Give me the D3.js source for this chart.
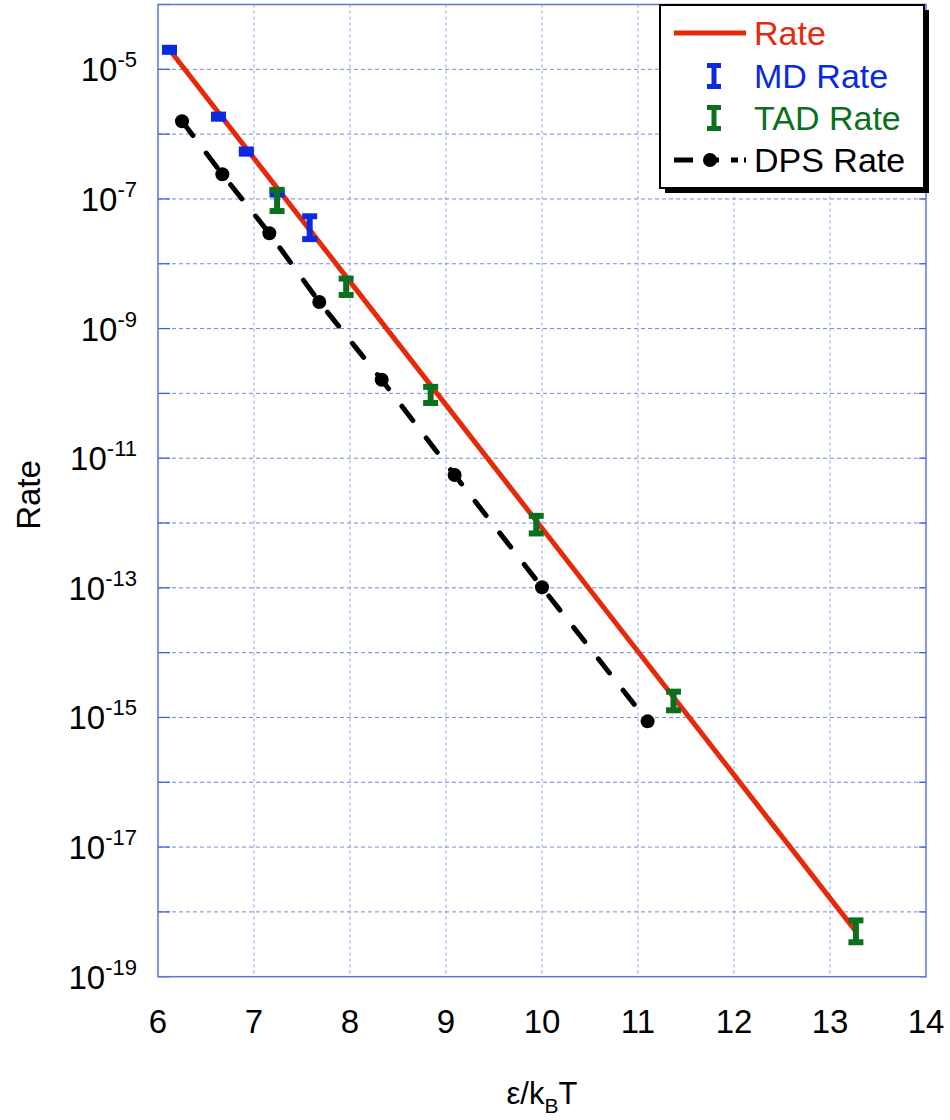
<!DOCTYPE html>
<html>
<head>
<meta charset="utf-8">
<script src="https://cdn.jsdelivr.net/npm/d3@7"></script>
<style>
  body { margin: 0; background: #fff; }
  text { font-family: "Liberation Sans", Arial, Helvetica, sans-serif; }
</style>
</head>
<body>
<script>
// chart size
var width = 950;
var height = 1120;

// x ticks and y decades
var xTicks = [6, 7, 8, 9, 10, 11, 12, 13, 14];
var yExps = [-19, -18, -17, -16, -15, -14, -13, -12, -11, -10, -9, -8, -7, -6, -5, -4];
var yLabelExps = [-19, -17, -15, -13, -11, -9, -7, -5];

// Rate (fit line)
var rateX = [6.12, 8, 10, 12, 13.27];
var rateY = [2.0e-5, 5.3e-9, 8.3e-13, 1.3e-16, 5.0e-19];

// MD Rate with error bars
var mdX = [6.12, 6.63, 6.92, 7.24, 7.58];
var mdY = [2.0e-5, 1.86e-6, 5.4e-7, 1.26e-7, 3.5e-8];
var mdHi = [2.15e-5, 2.0e-6, 5.8e-7, 1.35e-7, 5.4e-8];
var mdLo = [1.86e-5, 1.73e-6, 5.0e-7, 1.17e-7, 2.4e-8];

// TAD Rate with error bars
var tadX = [7.24, 7.96, 8.84, 9.94, 11.37, 13.27];
var tadY = [9.5e-8, 4.4e-9, 9.3e-11, 9.3e-13, 1.86e-15, 5.0e-19];
var tadHi = [1.38e-7, 5.9e-9, 1.26e-10, 1.29e-12, 2.5e-15, 7.4e-19];
var tadLo = [6.5e-8, 3.3e-9, 7.1e-11, 6.9e-13, 1.29e-15, 3.4e-19];

// DPS Rate
var dpsX = [6.25, 6.67, 7.16, 7.68, 8.33, 9.09, 10.0, 11.10];
var dpsY = [1.58e-6, 2.4e-7, 2.95e-8, 2.57e-9, 1.62e-10, 5.5e-12, 1.02e-13, 8.7e-16];

var red = "#e8280a", blue = "#0a2ae0", green = "#0a7020";

var xScale = d3.scaleLinear().domain([6, 14]).range([158, 926]);
var yScale = d3.scaleLog().domain([1e-19, 1e-4]).range([976.7, 4.5]);

var svg = d3.select("body").append("svg")
    .attr("width", width)
    .attr("height", height);

// grid
var grid = svg.append("g");
grid.selectAll("line.v")
    .data(xTicks.slice(1, -1))
    .enter().append("line")
    .attr("x1", function(d){ return xScale(d); })
    .attr("x2", function(d){ return xScale(d); })
    .attr("y1", yScale.range()[1])
    .attr("y2", yScale.range()[0])
    .attr("stroke", "#b4c0f4")
    .attr("stroke-width", 1.5)
    .attr("stroke-dasharray", "3,3");

grid.selectAll("line.h")
    .data(yExps.slice(1, -1))
    .enter().append("line")
    .attr("x1", xScale.range()[0])
    .attr("x2", xScale.range()[1])
    .attr("y1", function(d){ return yScale(Math.pow(10, d)); })
    .attr("y2", function(d){ return yScale(Math.pow(10, d)); })
    .attr("stroke", "#7087e6")
    .attr("stroke-width", 1)
    .attr("stroke-dasharray", "4,3");

// frame
svg.append("rect")
    .attr("x", xScale.range()[0])
    .attr("y", yScale.range()[1])
    .attr("width", xScale.range()[1] - xScale.range()[0])
    .attr("height", yScale.range()[0] - yScale.range()[1])
    .attr("fill", "none")
    .attr("stroke", "#5b74e4")
    .attr("stroke-width", 1.5);

// inward ticks
grid.selectAll("line.tl")
    .data(yExps)
    .enter().append("line")
    .attr("x1", xScale.range()[0])
    .attr("x2", xScale.range()[0] + 12)
    .attr("y1", function(d){ return yScale(Math.pow(10, d)); })
    .attr("y2", function(d){ return yScale(Math.pow(10, d)); })
    .attr("stroke", "#3a58dc")
    .attr("stroke-width", 1.2);
grid.selectAll("line.tr")
    .data(yExps)
    .enter().append("line")
    .attr("x1", xScale.range()[1] - 7)
    .attr("x2", xScale.range()[1])
    .attr("y1", function(d){ return yScale(Math.pow(10, d)); })
    .attr("y2", function(d){ return yScale(Math.pow(10, d)); })
    .attr("stroke", "#3a58dc")
    .attr("stroke-width", 1.2);

// tick labels
svg.selectAll("text.xt")
    .data(xTicks)
    .enter().append("text")
    .attr("x", function(d){ return xScale(d); })
    .attr("y", 1033)
    .attr("text-anchor", "middle")
    .attr("font-size", 33)
    .text(function(d){ return d; });

var yl = svg.selectAll("text.yt")
    .data(yLabelExps)
    .enter().append("text")
    .attr("x", 137)
    .attr("y", function(d){ return yScale(Math.pow(10, d)) + 12; })
    .attr("text-anchor", "end")
    .attr("font-size", 33);
yl.append("tspan").text("10");
yl.append("tspan")
    .attr("dy", -14)
    .attr("font-size", 22)
    .text(function(d){ return d; });

// axis titles
svg.append("text")
    .attr("transform", "translate(40,495) rotate(-90)")
    .attr("text-anchor", "middle")
    .attr("font-size", 33)
    .text("Rate");

var xt = svg.append("text")
    .attr("x", 542)
    .attr("y", 1104)
    .attr("text-anchor", "middle")
    .attr("font-size", 31);
xt.append("tspan").text("ε/k");
xt.append("tspan").attr("dy", 9).attr("font-size", 21).text("B");
xt.append("tspan").attr("dy", -9).text("T");

// DPS dashed line
var line = d3.line()
    .x(function(d){ return xScale(d[0]); })
    .y(function(d){ return yScale(d[1]); });

svg.append("path")
    .datum(d3.zip(dpsX, dpsY))
    .attr("d", line)
    .attr("fill", "none")
    .attr("stroke", "#000")
    .attr("stroke-width", 5)
    .attr("stroke-linecap", "round")
    .attr("stroke-dasharray", "18,22");

svg.selectAll("circle.dps")
    .data(d3.zip(dpsX, dpsY))
    .enter().append("circle")
    .attr("cx", function(d){ return xScale(d[0]); })
    .attr("cy", function(d){ return yScale(d[1]); })
    .attr("r", 7)
    .attr("fill", "#000");

// Rate line
svg.append("path")
    .datum(d3.zip(rateX, rateY))
    .attr("d", line)
    .attr("fill", "none")
    .attr("stroke", red)
    .attr("stroke-width", 5);

// error bars
function errorBars(xs, ys, hi, lo, color) {
    var g = svg.append("g").attr("fill", color).attr("stroke", color);
    var data = d3.range(xs.length).map(function(i){ return [xs[i], ys[i], hi[i], lo[i]]; });
    g.selectAll("line")
        .data(data)
        .enter().append("line")
        .attr("x1", function(d){ return xScale(d[0]); })
        .attr("x2", function(d){ return xScale(d[0]); })
        .attr("y1", function(d){ return yScale(d[2]); })
        .attr("y2", function(d){ return yScale(d[3]); })
        .attr("stroke-width", 6);
    g.selectAll("rect.hi")
        .data(data)
        .enter().append("rect")
        .attr("x", function(d){ return xScale(d[0]) - 7.5; })
        .attr("y", function(d){ return yScale(d[2]) - 3; })
        .attr("width", 15)
        .attr("height", 6)
        .attr("stroke", "none");
    g.selectAll("rect.lo")
        .data(data)
        .enter().append("rect")
        .attr("x", function(d){ return xScale(d[0]) - 7.5; })
        .attr("y", function(d){ return yScale(d[3]) - 3; })
        .attr("width", 15)
        .attr("height", 6)
        .attr("stroke", "none");
}
errorBars(mdX, mdY, mdHi, mdLo, blue);
errorBars(tadX, tadY, tadHi, tadLo, green);

// legend
var lg = svg.append("g");
lg.append("rect")
    .attr("x", 665).attr("y", 10)
    .attr("width", 264).attr("height", 183)
    .attr("fill", "#000");
lg.append("rect")
    .attr("x", 660).attr("y", 5)
    .attr("width", 264).attr("height", 183)
    .attr("fill", "#fff")
    .attr("stroke", "#000")
    .attr("stroke-width", 2);

var rowY = [33, 76, 118, 160];
var names = ["Rate", "MD Rate", "TAD Rate", "DPS Rate"];
var colors = [red, blue, green, "#000"];

lg.selectAll("text")
    .data(names)
    .enter().append("text")
    .attr("x", 754)
    .attr("y", function(d, i){ return rowY[i] + 12; })
    .attr("font-size", 34)
    .attr("fill", function(d, i){ return colors[i]; })
    .text(function(d){ return d; });

lg.append("line")
    .attr("x1", 674).attr("x2", 746)
    .attr("y1", rowY[0]).attr("y2", rowY[0])
    .attr("stroke", red).attr("stroke-width", 5);

[[1, blue], [2, green]].forEach(function(p){
    var y = rowY[p[0]];
    lg.append("line")
        .attr("x1", 714).attr("x2", 714)
        .attr("y1", y - 10).attr("y2", y + 10)
        .attr("stroke", p[1]).attr("stroke-width", 5);
    lg.append("rect").attr("x", 707).attr("y", y - 13).attr("width", 14).attr("height", 5).attr("fill", p[1]);
    lg.append("rect").attr("x", 707).attr("y", y + 8).attr("width", 14).attr("height", 5).attr("fill", p[1]);
});

lg.append("line")
    .attr("x1", 674).attr("x2", 746)
    .attr("y1", rowY[3]).attr("y2", rowY[3])
    .attr("stroke", "#000").attr("stroke-width", 5)
    .attr("stroke-dasharray", "19,14,12,12,7,6");
lg.append("circle")
    .attr("cx", 710).attr("cy", rowY[3]).attr("r", 7).attr("fill", "#000");
</script>
</body>
</html>
